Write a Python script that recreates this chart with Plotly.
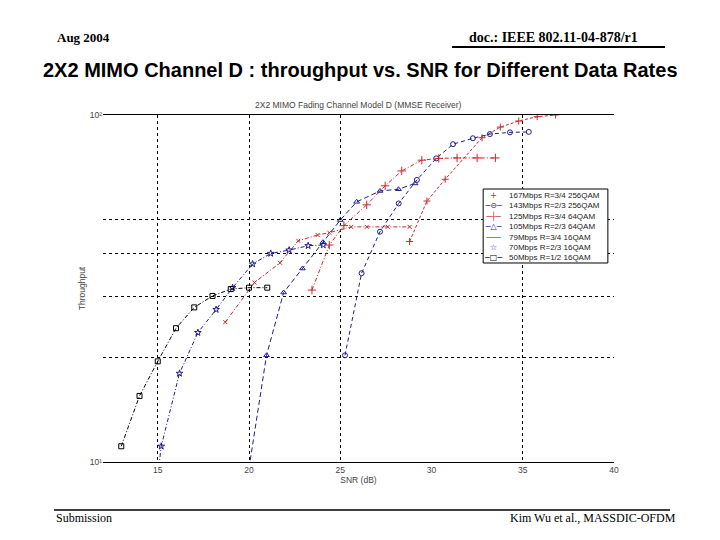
import plotly.graph_objects as go

# ---------------- data ----------------
series_names = [
    "167Mbps R=3/4 256QAM",
    "143Mbps R=2/3 256QAM",
    "125Mbps R=3/4 64QAM",
    "105Mbps R=2/3 64QAM",
    "79Mbps R=3/4 16QAM",
    "70Mbps R=2/3 16QAM",
    "50Mbps R=1/2 16QAM",
]

snr_167 = [28.8, 29.75, 30.75, 32.77, 33.77, 34.78, 35.79, 36.8]
thr_167 = [43.2, 56.5, 65.3, 86.0, 92.3, 96.1, 98.9, 100.0]

snr_143 = [25.26, 26.17, 27.18, 28.2, 29.2, 30.26, 31.18, 32.27, 33.2, 34.3, 35.33]
thr_143 = [20.3, 35.0, 46.1, 55.6, 65.0, 75.0, 82.4, 85.7, 88.1, 89.1, 89.4]

snr_125 = [23.45, 24.4, 25.2, 26.45, 27.46, 28.37, 29.47, 30.4, 31.4, 32.5, 33.5]
thr_125 = [31.3, 42.2, 48.0, 55.1, 62.5, 69.0, 74.1, 75.0, 75.2, 75.2, 75.2]

snr_105 = [20.0, 20.96, 21.9, 22.93, 24.05, 25.0, 25.9, 27.18, 28.19, 29.1]
thr_105 = [9.6, 20.3, 30.8, 36.1, 43.0, 49.8, 56.2, 60.4, 61.1, 63.5]

snr_79 = [18.7, 20.3, 21.7, 22.7, 23.76, 24.4, 25.6, 26.45, 27.6, 28.8]
thr_79 = [25.3, 32.9, 37.5, 43.4, 45.1, 45.8, 47.6, 47.6, 47.6, 47.6]

snr_70 = [14.2, 15.19, 16.19, 17.2, 18.2, 19.1, 20.2, 21.19, 22.2, 23.24, 24.07]
thr_70 = [4.0, 11.1, 18.0, 23.6, 27.5, 31.8, 37.2, 39.9, 40.8, 42.0, 42.2]

snr_50 = [13, 14, 15, 16, 17, 18, 19, 20, 21]
thr_50 = [11.1, 15.5, 19.5, 24.3, 27.9, 30.1, 31.5, 31.8, 31.8]

x_ticks = [15, 20, 25, 30, 35, 40]
x_grid = [15, 20, 25, 35, 40]
y_ticks = [10, 100]
y_tick_labels = ["10¹", "10²"]
y_grid = [20, 30, 40, 50]

# ---------------- styles ----------------
RED = "#c8282d"
BLUE = "#1e1e8c"
BLACK = "#000000"

xs = [snr_167, snr_143, snr_125, snr_105, snr_79, snr_70, snr_50]
ys = [thr_167, thr_143, thr_125, thr_105, thr_79, thr_70, thr_50]
colors = [RED, BLUE, RED, BLUE, RED, BLUE, BLACK]
symbols = ["cross-thin-open", "circle-open", "cross-thin-open", "triangle-up-open",
           "x-thin-open", "star-open", "square-open"]
msizes = [5, 5, 6, 5, 4, 5, 5]
dashes = ["3px,2px", "4px,3px", "4px,2px,1px,2px", "5px,3px",
          "4px,2px,1px,2px", "4px,2px,1px,2px", "4px,2px,1px,2px"]
legend_glyphs = ["+", "─⊖─", "─┼─", "─△─", "───", "☆", "─□─"]

fig = go.Figure()
for name, x, y, c, s, ms, d in zip(series_names, xs, ys, colors, symbols, msizes, dashes):
    fig.add_trace(go.Scatter(
        x=x, y=y, name=name, mode="lines+markers", showlegend=False,
        line=dict(color=c, width=1, dash=d),
        marker=dict(symbol=s, size=ms, color=c, line=dict(color=c, width=1)),
    ))

SMALL = dict(family="Liberation Sans, Arial, sans-serif", size=8.5, color="#444444")

fig.update_layout(
    width=712, height=532,
    margin=dict(l=95, r=106, t=107, b=78),
    paper_bgcolor="white", plot_bgcolor="white",
    showlegend=False,
    xaxis=dict(
        range=[12, 40], tickvals=x_ticks, showgrid=False, zeroline=False,
        showline=True, mirror=True, linecolor="black", linewidth=1,
        ticks="", tickfont=SMALL,
        minor=dict(tickvals=x_grid, showgrid=True, gridcolor="black",
                   griddash="dot", gridwidth=1, ticks=""),
        title=dict(text="SNR (dB)", font=SMALL, standoff=2),
    ),
    yaxis=dict(
        type="log", range=[1, 2], tickvals=y_ticks, ticktext=y_tick_labels,
        showgrid=False, zeroline=False, showline=False, ticks="", tickfont=SMALL,
        minor=dict(tickvals=y_grid, showgrid=True, gridcolor="black",
                   griddash="dot", gridwidth=1, ticks=""),
        title=dict(text="Throughput", font=SMALL, standoff=2),
    ),
)

annotations = []
shapes = []

# inner chart title
annotations.append(dict(text="2X2 MIMO Fading Channel Model D (MMSE Receiver)",
                        x=0.5, y=1.029, xref="paper", yref="paper",
                        showarrow=False, font=SMALL, xanchor="center", yanchor="middle"))

# legend built from the series
shapes.append(dict(type="rect", xref="paper", yref="paper",
                   x0=0.744, x1=0.988, y0=0.5735, y1=0.7867,
                   line=dict(color="black", width=1), fillcolor="white", layer="above"))
glyph_text = "<br>".join(f"<span style='color:{c}'>{g}</span>"
                         for c, g in zip(colors, legend_glyphs))
label_text = "<br>".join(series_names)
LEG = dict(family="Liberation Sans, Arial, sans-serif", size=8, color="#222222")
annotations.append(dict(text=glyph_text, x=0.763, y=0.68, xref="paper", yref="paper",
                        showarrow=False, font=dict(family="DejaVu Sans", size=8),
                        xanchor="center", yanchor="middle", align="center"))
annotations.append(dict(text=label_text, x=0.7906, y=0.68, xref="paper", yref="paper",
                        showarrow=False, font=LEG, xanchor="left", yanchor="middle",
                        align="left"))

# slide header / footer
SERIF = "Liberation Serif, Times New Roman, serif"
annotations.append(dict(text="Aug 2004", x=-0.0939, y=1.222, xref="paper", yref="paper",
                        showarrow=False, xanchor="left", yanchor="middle",
                        font=dict(family=SERIF, size=13, color="black", weight="bold")))
annotations.append(dict(text="doc.: IEEE 802.11-04-878/r1", x=1.0509, y=1.222,
                        xref="paper", yref="paper", showarrow=False,
                        xanchor="right", yanchor="middle",
                        font=dict(family=SERIF, size=14, color="black", weight="bold")))
shapes.append(dict(type="line", xref="paper", yref="paper", x0=0.683, x1=1.0998,
                   y0=1.196, y1=1.196, line=dict(color="black", width=2)))
annotations.append(dict(text="2X2 MIMO Channel D : throughput vs. SNR for Different Data Rates",
                        x=0.503, y=1.130, xref="paper", yref="paper", showarrow=False,
                        xanchor="center", yanchor="middle",
                        font=dict(family="Liberation Sans, Arial, sans-serif", size=20,
                                  color="black", weight="bold")))
shapes.append(dict(type="line", xref="paper", yref="paper", x0=-0.0959, x1=1.1096,
                   y0=-0.1383, y1=-0.1383, line=dict(color="black", width=1.5)))
annotations.append(dict(text="Submission", x=-0.0959, y=-0.161, xref="paper", yref="paper",
                        showarrow=False, xanchor="left", yanchor="middle",
                        font=dict(family=SERIF, size=12, color="black")))
annotations.append(dict(text="Kim Wu et al., MASSDIC-OFDM", x=1.1252, y=-0.161,
                        xref="paper", yref="paper", showarrow=False,
                        xanchor="right", yanchor="middle",
                        font=dict(family=SERIF, size=12, color="black")))

fig.update_layout(annotations=annotations, shapes=shapes)
fig.write_html("out.html")
